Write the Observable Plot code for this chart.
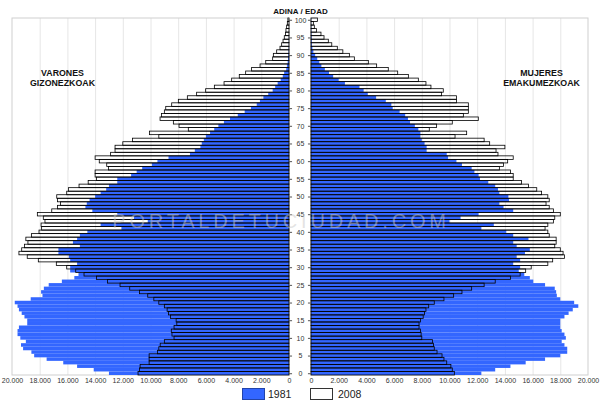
<!DOCTYPE html>
<html><head><meta charset="utf-8">
<script src="https://cdn.jsdelivr.net/npm/d3@7"></script>
<script src="https://cdn.jsdelivr.net/npm/@observablehq/plot@0.6"></script>
<style>
html,body{margin:0;padding:0;background:#fff;}
#wrap{position:relative;width:600px;height:401px;overflow:hidden;font-family:"Liberation Sans",Arial,sans-serif;}
#chart{position:absolute;left:0;top:0;}
#legend{position:absolute;left:0;top:387px;width:600px;height:14px;font-size:10.5px;color:#222;}
.sw{position:absolute;top:1px;width:23px;height:12px;box-sizing:border-box;}
.lb{position:absolute;top:0;line-height:14px;}
</style></head>
<body><div id="wrap"><div id="chart"></div>
<div id="legend">
  <div class="sw" style="left:242px;background:#3366ff;border:1px solid #2244aa;"></div><div class="lb" style="left:268px;">1981</div>
  <div class="sw" style="left:310px;background:#fff;border:1px solid #333;"></div><div class="lb" style="left:338px;">2008</div>
</div></div>
<script>
// ages 0..100
const ages = d3.range(0, 101);
const male1981 = [13000,14100,15300,16300,17500,18400,18600,19200,19350,19000,19400,19600,19600,19500,18900,18900,19100,19300,19500,19600,19800,18650,17800,17900,17700,17350,16400,15500,15200,15800,15800,15300,15800,15900,16650,16650,15100,15600,15300,15100,14560,12100,13600,10200,11200,12400,14200,14700,14600,14400,14000,13600,13200,13000,12400,12400,11400,11000,10600,9900,9500,8700,7150,6800,6400,6300,6150,6000,5700,5400,5100,4700,4260,3700,3200,2750,2330,2100,1850,1500,1180,1000,820,600,450,350,200,150,100,70,50,30,20,10,10,10,0,0,0,0,0];
const male2008 = [10900,10800,10750,10100,10100,10100,9500,9400,9300,9000,8300,8450,8500,8300,8100,8150,8550,8700,8800,9000,9400,9760,10200,10800,11500,12200,13100,13900,14800,15400,16050,16800,18100,18900,19500,19300,19100,18850,19000,18600,18050,17860,17900,17620,17740,18170,17130,16720,16500,16720,16770,16050,15930,15160,14500,13900,14000,14000,13040,13160,13700,14000,12880,12560,12560,12000,11300,9400,10080,7270,7940,8350,9310,9200,9000,8900,8470,7990,7340,6670,6020,5390,4690,4140,3590,3130,2700,2090,1680,1180,1130,890,650,530,430,340,250,220,170,120,80];
const female1981 = [12300,13300,14400,15500,16900,18000,18500,18500,18300,18100,18400,18300,18100,18000,18000,18000,18300,18600,18900,19300,19000,18000,17750,17700,17600,16900,16050,15800,15400,15000,15100,14600,15100,14850,15450,15800,14850,14600,15700,14600,14100,12300,13200,10000,10800,12100,14600,13900,13600,14300,14250,13600,13500,13300,12800,12200,12100,11800,11600,10900,10500,9900,9800,8350,8350,8200,8000,7900,7900,7750,7500,7150,7000,6800,6400,5900,5800,5400,4700,4100,3800,3500,2450,2000,1600,1300,1000,750,600,450,300,170,100,60,50,40,30,20,20,10,10];
const female2008 = [10350,10200,10100,9800,9600,9460,9100,8900,8850,8770,8000,7950,7900,7800,7800,7900,8100,8200,8300,8500,8900,9600,10300,10900,11600,12500,13300,14400,15100,15500,15900,17100,17450,18300,18200,18000,17600,17700,17700,17200,17100,16900,17100,17500,17600,18000,17500,17200,16970,17200,17100,16650,16300,15700,15200,14600,14600,14400,13600,13900,14200,14600,13500,13360,14000,12900,12500,10400,11240,8540,9070,10200,12080,11000,11360,11360,11360,10500,10500,9430,9550,8660,8300,7750,7030,6260,5580,4740,4140,3130,2770,2300,1900,1500,1250,940,720,400,240,170,460];
const ageTicks = d3.range(0, 101, 5);
const xTickValues = [0,2000,4000,6000,8000,10000,12000,14000,16000,18000,20000];
const title = "ADINA / EDAD";
const leftLabel = "VARONES\nGIZONEZKOAK";
const rightLabel = "MUJERES\nEMAKUMEZKOAK";
const watermark = "PORTALDETUCIUDAD.COM";

const G = 794; // half gap between the two panels (in data units)
const XMAX = 20000;
const fmt = d3.formatLocale({decimal: ",", thousands: ".", grouping: [3], currency: ["", ""]}).format(",");
const rows = ages.map((age, i) => ({age, m81: male1981[i], m08: male2008[i], f81: female1981[i], f08: female2008[i]}));
const xPos = xTickValues.flatMap(v => v === 0 ? [-G, G] : [-(G + v), G + v]);
const gridPos = xTickValues.filter(v => v > 0 && v < XMAX).flatMap(v => [-(G + v), G + v]);
const panels = [{x1: -(G + XMAX), x2: -G}, {x1: G, x2: G + XMAX}];
const y1 = d => d.age - 0.5, y2 = d => d.age + 0.5;
const blue = "#3366ff";

const chart = Plot.plot({
  width: 600, height: 387,
  marginLeft: 12, marginRight: 12, marginTop: 18, marginBottom: 12,
  x: {domain: [-(G + XMAX), G + XMAX], ticks: xPos, tickFormat: d => fmt(Math.abs(d) - G), tickSize: 0, tickPadding: 3, label: null},
  y: {domain: [-0.5, 100.5], axis: null},
  style: {fontFamily: "'Liberation Sans', Arial, sans-serif", fontSize: "7px", color: "#333", background: "white"},
  marks: [
    Plot.ruleX(gridPos, {x: d => d, y1: -0.5, y2: 100.5, stroke: "#e6e6e6"}),
    Plot.rect(panels, {x1: "x1", x2: "x2", y1: -0.5, y2: 100.5, fill: "none", stroke: "#cfcfcf"}),
    Plot.rect(rows, {x1: -G, x2: d => -G - d.m81, y1, y2, fill: blue}),
    Plot.rect(rows, {x1: G, x2: d => G + d.f81, y1, y2, fill: blue}),
    Plot.rect(rows, {x1: -G, x2: d => -G - d.m08, y1, y2, fill: "none", stroke: "#000", strokeWidth: 0.8}),
    Plot.rect(rows, {x1: G, x2: d => G + d.f08, y1, y2, fill: "none", stroke: "#000", strokeWidth: 0.8}),
    Plot.ruleY(ageTicks, {y: d => d, x1: -G, x2: -G + 220, stroke: "#555"}),
    Plot.ruleY(ageTicks, {y: d => d, x1: G - 220, x2: G, stroke: "#555"}),
    Plot.text(ageTicks, {x: 0, y: d => d, text: d => String(d), fontSize: 7, fill: "#333"}),
    Plot.text([title], {x: 0, y: 100.5, dy: -7, text: d => d, fontSize: 8, fontWeight: "bold", fill: "#111"}),
    Plot.text([leftLabel], {frameAnchor: "top-left", dx: 50, dy: 50.5, text: d => d, fontSize: 8.8, fontWeight: "bold", lineHeight: 1.15, textAnchor: "middle", fill: "#111"}),
    Plot.text([rightLabel], {frameAnchor: "top-right", dx: -47, dy: 50.5, text: d => d, fontSize: 8.8, fontWeight: "bold", lineHeight: 1.15, textAnchor: "middle", fill: "#111"}),
    Plot.text([watermark], {frameAnchor: "top-left", dx: 268.5, dy: 195, text: d => d, textAnchor: "middle", fontSize: 20, fill: "#c8c8c8", fillOpacity: 0.5})
  ]
});
document.getElementById("chart").appendChild(chart);
d3.select(chart).selectAll("text").filter(function() { return this.textContent === watermark; }).style("letter-spacing", "3.8px");
</script>
</body></html>
